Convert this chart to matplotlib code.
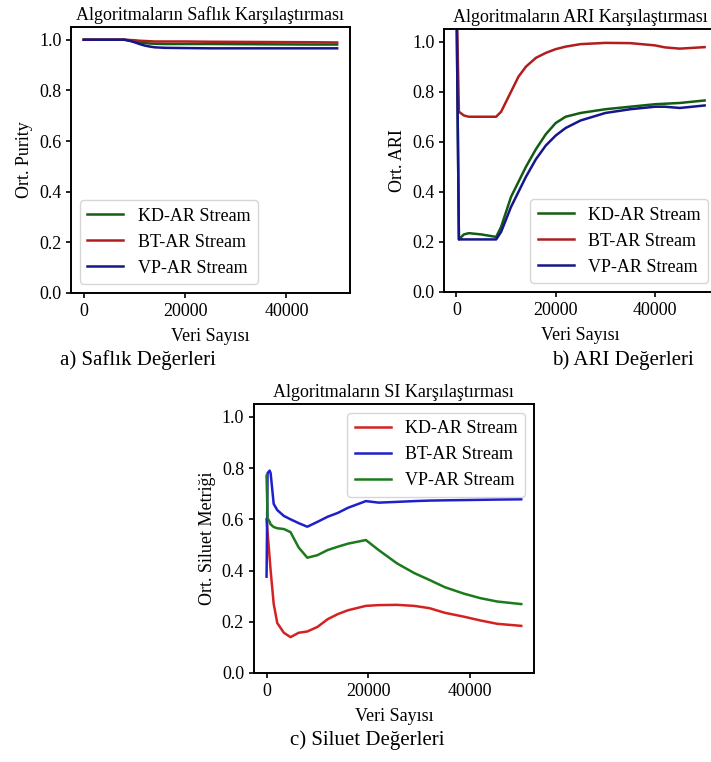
import numpy as np
import matplotlib
matplotlib.use("Agg")
import matplotlib.pyplot as plt

plt.rcParams["font.family"] = ["Liberation Serif", "DejaVu Serif"]
plt.rcParams["font.size"] = 13

labels = ["KD-AR Stream", "BT-AR Stream", "VP-AR Stream"]

# a) purity
purity_x = [0, 4000, 8000, 9000, 10000, 11000, 12000, 13000, 14000, 16000, 20000,
            25000, 35000, 45000, 50000]
purity_kd = [1.0, 1.0, 1.0, 0.997, 0.993, 0.99, 0.987, 0.985, 0.984, 0.983, 0.983,
             0.983, 0.982, 0.981, 0.981]
purity_bt = [1.0, 1.0, 1.0, 0.999, 0.998, 0.996, 0.995, 0.994, 0.993, 0.993, 0.993,
             0.992, 0.991, 0.990, 0.989]
purity_vp = [1.0, 1.0, 1.0, 0.996, 0.99, 0.983, 0.977, 0.973, 0.97, 0.968, 0.967,
             0.966, 0.966, 0.966, 0.966]

# b) ARI
ari_x = [0, 500, 1500, 2500, 5000, 8000, 9000, 10000, 11000, 12500, 14000, 16000,
         18000, 20000, 22000, 25000, 30000, 35000, 40000, 42000, 45000, 50000]
ari_kd = [1.2, 0.21, 0.23, 0.235, 0.23, 0.22, 0.26, 0.32, 0.38, 0.44, 0.50, 0.57,
          0.63, 0.675, 0.70, 0.715, 0.73, 0.74, 0.75, 0.752, 0.755, 0.765]
ari_bt = [1.2, 0.72, 0.705, 0.70, 0.70, 0.70, 0.72, 0.76, 0.80, 0.86, 0.90, 0.935,
          0.955, 0.97, 0.98, 0.99, 0.995, 0.994, 0.985, 0.977, 0.972, 0.978]
ari_vp = [1.2, 0.21, 0.21, 0.21, 0.21, 0.21, 0.24, 0.29, 0.34, 0.40, 0.46, 0.53,
          0.585, 0.625, 0.655, 0.685, 0.715, 0.73, 0.74, 0.74, 0.735, 0.745]

# c) silhouette
si_x = [0, 200, 600, 800, 1400, 2100, 3400, 4700, 6300, 8000, 10000, 12000, 14000,
        16000, 19500, 22000, 25600, 29000, 32000, 35000, 38700, 42000, 45300, 50000]
si_kd = [0.60, 0.55, 0.45, 0.40, 0.27, 0.195, 0.157, 0.14, 0.157, 0.162, 0.18, 0.21,
         0.23, 0.245, 0.262, 0.265, 0.266, 0.262, 0.253, 0.235, 0.22, 0.205, 0.192, 0.184]
si_bt = [0.376, 0.78, 0.79, 0.78, 0.66, 0.636, 0.613, 0.60, 0.585, 0.571, 0.59, 0.61,
         0.625, 0.645, 0.671, 0.665, 0.668, 0.671, 0.673, 0.674, 0.675, 0.676, 0.677, 0.678]
si_vp = [0.77, 0.605, 0.59, 0.58, 0.57, 0.565, 0.562, 0.55, 0.49, 0.45, 0.46, 0.48,
         0.493, 0.505, 0.519, 0.48, 0.428, 0.39, 0.363, 0.335, 0.31, 0.292, 0.279, 0.269]

dark_colors = ["#145c14", "#b01e1e", "#16168c"]
bright_colors = ["#d42222", "#1f1fcc", "#1c7a1c"]


def plot_panel(ax, x, series, colors, title, ylabel, legend_loc):
    for values, color, label in zip(series, colors, labels):
        ax.plot(x, values, color=color, lw=1.8, label=label)
    ax.set_xlim(-2500, 52500)
    ax.set_ylim(0, 1.05)
    ax.set_xticks([0, 20000, 40000])
    ax.set_yticks([0.0, 0.2, 0.4, 0.6, 0.8, 1.0])
    ax.set_title(title, fontsize=13, pad=5)
    ax.set_xlabel("Veri Sayısı", labelpad=6)
    ax.set_ylabel(ylabel)
    for spine in ax.spines.values():
        spine.set_linewidth(1.4)
    ax.tick_params(width=1.2)
    ax.legend(loc=legend_loc, fontsize=13, handlelength=2.0)


fig = plt.figure(figsize=(7.11, 7.62), dpi=100)

ax_a = fig.add_axes([0.100, 0.6155, 0.392, 0.349])
plot_panel(ax_a, purity_x, [purity_kd, purity_bt, purity_vp], dark_colors,
           "Algoritmaların Saflık Karşılaştırması", "Ort. Purity", "lower left")

ax_b = fig.add_axes([0.6245, 0.6168, 0.384, 0.345])
plot_panel(ax_b, ari_x, [ari_kd, ari_bt, ari_vp], dark_colors,
           "Algoritmaların ARI Karşılaştırması", "Ort. ARI", "lower right")

ax_c = fig.add_axes([0.357, 0.1168, 0.394, 0.353])
plot_panel(ax_c, si_x, [si_kd, si_bt, si_vp], bright_colors,
           "Algoritmaların SI Karşılaştırması", "Ort. Siluet Metriği", "upper right")

fig.text(138 / 711, 1 - 360 / 762, "a) Saflık Değerleri", ha="center", va="center", fontsize=15)
fig.text(623 / 711, 1 - 360 / 762, "b) ARI Değerleri", ha="center", va="center", fontsize=15)
fig.text(367 / 711, 1 - 740 / 762, "c) Siluet Değerleri", ha="center", va="center", fontsize=15)

fig.savefig("out.png", dpi=100)
